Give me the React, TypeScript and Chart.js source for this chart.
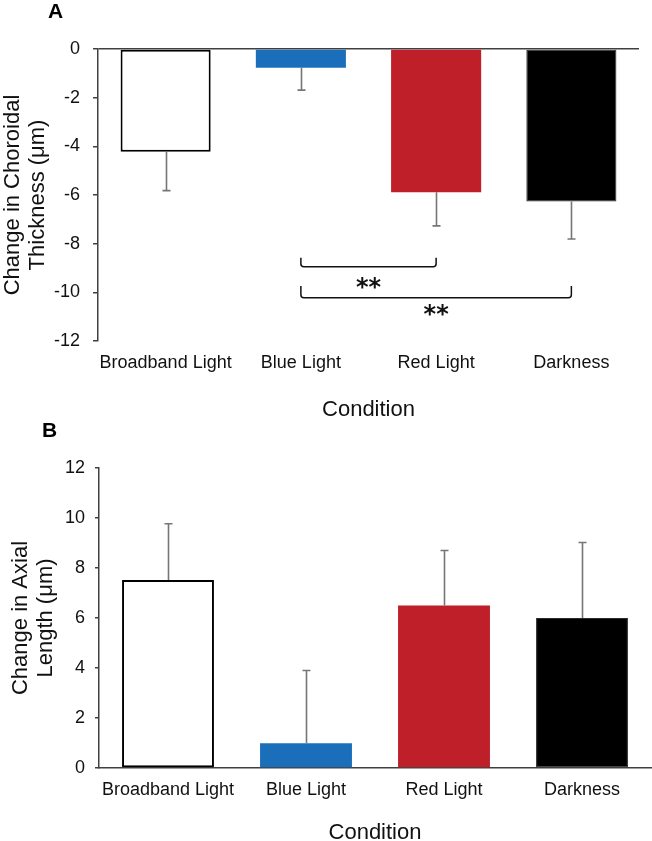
import React, { useEffect, useRef } from "react";
import { Chart, registerables } from "chart.js";

Chart.register(...registerables);

// ---------- data ----------
const categories = ["Broadband Light", "Blue Light", "Red Light", "Darkness"];
const choroidValues = [-4.22, -0.77, -5.89, -6.27];
const choroidErrors = [1.6, 0.92, 1.38, 1.54];
const axialValues = [7.52, 0.99, 6.5, 6.0];
const axialErrors = [2.25, 2.91, 2.2, 3.02];
const barFill = ["#ffffff", "#1b6fba", "#be1f29", "#000000"];
const barBorder = ["#000000", "#1b6fba", "#be1f29", "#2a2a2a"];
const barBorderWidth = [2, 0, 0, 1];
// significance brackets for panel A: from/to category index, line level, end-tick level, label level
const bracketFrom = [1, 1];
const bracketTo = [2, 3];
const bracketLevel = [-8.95, -10.22];
const bracketTickLevel = [-8.58, -9.74];
const bracketLabelLevel = [-9.6, -10.73];
const bracketLabels = ["**", "**"];

const FONT = '"Liberation Sans", Arial, sans-serif';
const AXIS = "#404040";

const errorBarPlugin = {
  id: "errorBars",
  afterDatasetsDraw(chart: any, _args: any, opts: any) {
    const errs: number[] = opts.errors || [];
    const meta = chart.getDatasetMeta(0);
    const yScale = chart.scales.y;
    const data = chart.data.datasets[0].data as number[];
    const ctx = chart.ctx;
    ctx.save();
    ctx.strokeStyle = "#767676";
    ctx.lineWidth = 1.6;
    meta.data.forEach((bar: any, i: number) => {
      const v = data[i];
      const e = errs[i];
      const end = v < 0 ? v - e : v + e;
      const x = Math.round(bar.x) + 0.5;
      const y0 = yScale.getPixelForValue(v);
      const y1 = yScale.getPixelForValue(end);
      ctx.beginPath();
      ctx.moveTo(x, y0);
      ctx.lineTo(x, y1);
      ctx.moveTo(x - 4, y1);
      ctx.lineTo(x + 4, y1);
      ctx.stroke();
    });
    ctx.restore();
  },
};

const bracketPlugin = {
  id: "brackets",
  afterDatasetsDraw(chart: any, _args: any, opts: any) {
    if (!opts.enabled) return;
    const xs = chart.scales.x;
    const ys = chart.scales.y;
    const ctx = chart.ctx;
    ctx.save();
    for (let i = 0; i < bracketFrom.length; i++) {
      const x0 = xs.getPixelForValue(bracketFrom[i]);
      const x1 = xs.getPixelForValue(bracketTo[i]);
      const yl = ys.getPixelForValue(bracketLevel[i]);
      const yt = ys.getPixelForValue(bracketTickLevel[i]);
      const r = 3;
      ctx.strokeStyle = "#111";
      ctx.lineWidth = 1.5;
      ctx.beginPath();
      ctx.moveTo(x0, yt);
      ctx.lineTo(x0, yl - r);
      ctx.quadraticCurveTo(x0, yl, x0 + r, yl);
      ctx.lineTo(x1 - r, yl);
      ctx.quadraticCurveTo(x1, yl, x1, yl - r);
      ctx.lineTo(x1, yt);
      ctx.stroke();
      const ly = ys.getPixelForValue(bracketLabelLevel[i]);
      ctx.font = 'bold 24px "DejaVu Sans", sans-serif';
      ctx.fillStyle = "#111";
      ctx.textAlign = "center";
      ctx.textBaseline = "alphabetic";
      const m = ctx.measureText(bracketLabels[i]);
      const off = (m.actualBoundingBoxAscent - m.actualBoundingBoxDescent) / 2;
      ctx.fillText(bracketLabels[i], (x0 + x1) / 2, ly + off);
    }
    ctx.restore();
  },
};

type PanelProps = {
  values: number[];
  errors: number[];
  min: number;
  max: number;
  yTitle: string[];
  width: number;
  height: number;
  padTop: number;
  padRight: number;
  yWidth: number;
  xHeight: number;
  tickLen: number;
  tickPad: number;
  yTitlePad: number;
  titlePadBottom: number;
  negative: boolean;
  brackets: boolean;
};

function Panel(p: PanelProps) {
  const ref = useRef<HTMLCanvasElement | null>(null);
  useEffect(() => {
    if (!ref.current) return;
    const chart = new Chart(ref.current, {
      type: "bar",
      data: {
        labels: categories,
        datasets: [
          {
            data: p.values,
            backgroundColor: barFill,
            borderColor: barBorder,
            borderWidth: barBorderWidth,
            borderSkipped: false,
            barPercentage: 0.666,
            categoryPercentage: 1,
          },
        ],
      },
      options: {
        responsive: false,
        animation: false,
        devicePixelRatio: 1,
        layout: { padding: { top: p.padTop, right: p.padRight, bottom: 0, left: 0 } },
        plugins: {
          legend: { display: false },
          tooltip: { enabled: false },
          errorBars: { errors: p.errors },
          brackets: { enabled: p.brackets },
        } as any,
        scales: {
          x: {
            grid: { display: false, drawTicks: false },
            border: { display: !p.negative, color: AXIS, width: 1.5 },
            ticks: {
              color: "#111",
              font: { family: FONT, size: 18 },
              padding: 11,
              maxRotation: 0,
              minRotation: 0,
              autoSkip: false,
            },
            title: {
              display: true,
              text: "Condition",
              color: "#111",
              font: { family: FONT, size: 22, lineHeight: 1 },
              padding: { top: 0, bottom: p.titlePadBottom },
            },
            afterFit: (s: any) => {
              s.height = p.xHeight;
            },
          },
          y: {
            min: p.min,
            max: p.max,
            ticks: { stepSize: 2, color: "#111", font: { family: FONT, size: 18 }, padding: p.tickPad },
            grid: {
              drawOnChartArea: p.negative,
              color: (c: any) => (c.tick && c.tick.value === 0 ? AXIS : "rgba(0,0,0,0)"),
              tickColor: AXIS,
              tickLength: p.tickLen,
              lineWidth: 1.5,
            },
            border: { display: true, color: AXIS, width: 1.5 },
            title: {
              display: true,
              text: p.yTitle,
              color: "#111",
              font: { family: FONT, size: 22, lineHeight: 1.15 },
              padding: { top: p.yTitlePad, bottom: 0 },
            },
            afterFit: (s: any) => {
              s.width = p.yWidth;
            },
          },
        },
      },
      plugins: [errorBarPlugin, bracketPlugin],
    } as any);
    return () => chart.destroy();
  }, []);
  return (
    <canvas
      ref={ref}
      width={p.width}
      height={p.height}
      style={{ display: "block", width: p.width, height: p.height }}
    />
  );
}

const letterStyle: React.CSSProperties = {
  position: "absolute",
  fontFamily: FONT,
  fontWeight: "bold",
  fontSize: 21,
  lineHeight: 1,
  color: "#000",
};

export default function App() {
  return (
    <div style={{ position: "fixed", left: 0, top: 0, width: 652, height: 841, background: "#fff" }}>
      <div style={{ position: "absolute", left: 0, top: 0 }}>
        <Panel
          values={choroidValues}
          errors={choroidErrors}
          min={-12}
          max={0}
          yTitle={["Change in Choroidal", "Thickness (μm)"]}
          width={652}
          height={420}
          padTop={49}
          padRight={13}
          yWidth={98}
          xHeight={79}
          tickLen={5}
          tickPad={13}
          yTitlePad={0}
          titlePadBottom={-1}
          negative={true}
          brackets={true}
        />
      </div>
      <div style={{ position: "absolute", left: 0, top: 420 }}>
        <Panel
          values={axialValues}
          errors={axialErrors}
          min={0}
          max={12}
          yTitle={["Change in Axial", "Length (μm)"]}
          width={652}
          height={421}
          padTop={48}
          padRight={1}
          yWidth={99}
          xHeight={73}
          tickLen={4}
          tickPad={10}
          yTitlePad={8}
          titlePadBottom={-3}
          negative={false}
          brackets={false}
        />
      </div>
      <div style={{ ...letterStyle, left: 48, top: 0 }}>A</div>
      <div style={{ ...letterStyle, left: 42, top: 419 }}>B</div>
    </div>
  );
}
